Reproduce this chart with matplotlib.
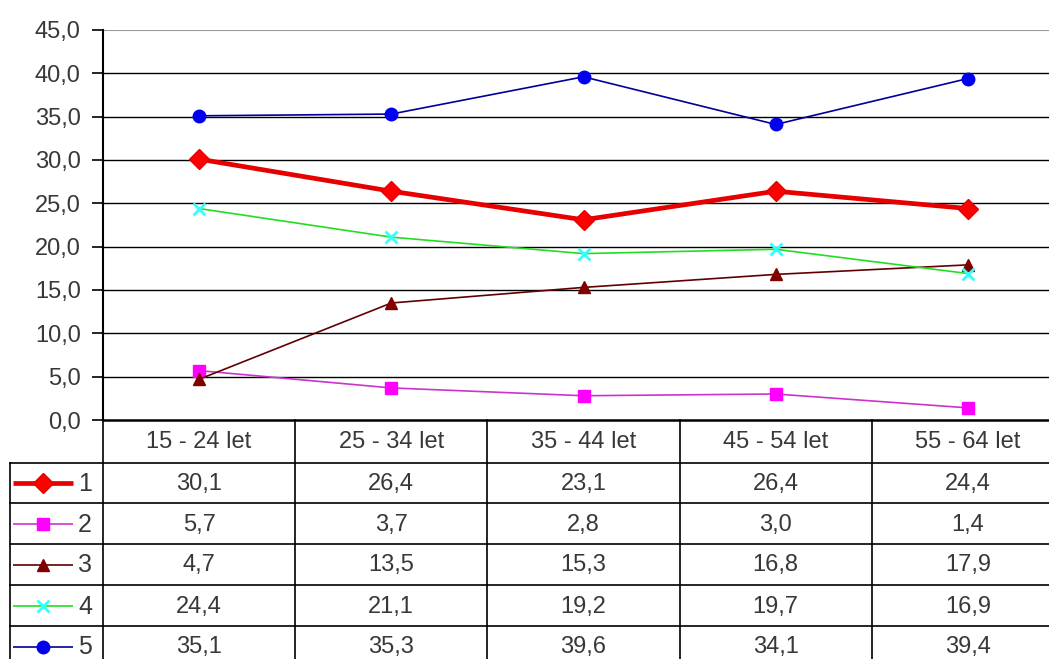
import matplotlib.pyplot as plt

plt.rcParams['font.family'] = ['Liberation Sans', 'DejaVu Sans']

# věkové skupiny a hodnoty řad
categories = ['15 - 24 let', '25 - 34 let', '35 - 44 let', '45 - 54 let', '55 - 64 let']
series_names = ['1', '2', '3', '4', '5']
s1 = [30.1, 26.4, 23.1, 26.4, 24.4]
s2 = [5.7, 3.7, 2.8, 3.0, 1.4]
s3 = [4.7, 13.5, 15.3, 16.8, 17.9]
s4 = [24.4, 21.1, 19.2, 19.7, 16.9]
s5 = [35.1, 35.3, 39.6, 34.1, 39.4]
yticks = [0, 5, 10, 15, 20, 25, 30, 35, 40, 45]

lines_st = [
    dict(color='#e60000', lw=3.4),
    dict(color='#cc33cc', lw=1.2),
    dict(color='#600000', lw=1.2),
    dict(color='#22dd22', lw=1.2),
    dict(color='#000099', lw=1.2),
]
marks_st = [
    dict(marker='D', ms=10, mfc='#ff0000', mec='#e60000'),
    dict(marker='s', ms=9, mfc='#ff00ff', mec='#ff00ff'),
    dict(marker='^', ms=9, mfc='#800000', mec='#800000'),
    dict(marker='x', ms=9, mfc='#33ffff', mec='#33ffff', mew=2),
    dict(marker='o', ms=9, mfc='#0000ee', mec='#0000ee'),
]
data = [s1, s2, s3, s4, s5]
txt_col = '#383838'
fs = 17

W, H = 1049, 659
fig = plt.figure(figsize=(W / 100, H / 100), dpi=100)

# plocha grafu v pixelech: vlevo 103, vpravo 1064 (mimo obrázek), nahoře 30, dole 420
left, right, top, bottom = 103, 1064, 30, 420
ax = fig.add_axes([left / W, 1 - bottom / H, (right - left) / W, (bottom - top) / H])
ax.set_xlim(-0.5, len(categories) - 0.5)
ax.set_ylim(0, 45)
for y in yticks[1:-1]:
    ax.axhline(y, color='black', lw=1, zorder=1)
ax.axhline(45, color='#999999', lw=1.5, zorder=1)
for vals, ls, ms in zip(data, lines_st, marks_st):
    ax.plot(range(len(vals)), vals, zorder=3, clip_on=False, **ls, **ms)
ax.set_yticks(yticks)
ax.set_yticklabels([f'{v:.1f}'.replace('.', ',') for v in yticks], fontsize=fs, color=txt_col)
ax.set_xticks([])
ax.tick_params(axis='y', length=8, width=1.2, pad=8)
for sp in ['top', 'right', 'bottom']:
    ax.spines[sp].set_visible(False)
ax.spines['left'].set_linewidth(1.5)

# tabulka s hodnotami pod grafem
tab = fig.add_axes([0, 0, 1, 1])
tab.set_xlim(0, W)
tab.set_ylim(H, 0)
tab.axis('off')
colw = (right - left) / len(categories)
rows = [420, 463, 503, 544, 585, 626, 667]
kw = dict(color='black', lw=1.2)
tab.plot([left, right], [rows[0], rows[0]], color='black', lw=1.8)
for y in rows[1:-1]:
    tab.plot([10, right], [y, y], **kw)
tab.plot([10, 10], [rows[1], H], **kw)
for i in range(len(categories) + 1):
    tab.plot([left + i * colw, left + i * colw], [rows[0], H], **kw)

for i, c in enumerate(categories):
    tab.text(left + (i + 0.5) * colw, (rows[0] + rows[1]) / 2 + 1, c,
             ha='center', va='center', fontsize=fs, color=txt_col)
for r, (name, vals, ls, ms) in enumerate(zip(series_names, data, lines_st, marks_st)):
    yc = (rows[r + 1] + rows[r + 2]) / 2
    tab.plot([13, 73], [yc, yc], solid_capstyle='butt', **ls)
    tab.plot([43], [yc], linestyle='none', **ms)
    tab.text(78, yc + 1, name, ha='left', va='center', fontsize=fs + 1, color=txt_col)
    for i, v in enumerate(vals):
        tab.text(left + (i + 0.5) * colw, yc + 1, f'{v:.1f}'.replace('.', ','),
                 ha='center', va='center', fontsize=fs, color=txt_col)

fig.savefig('out.png', dpi=100)
